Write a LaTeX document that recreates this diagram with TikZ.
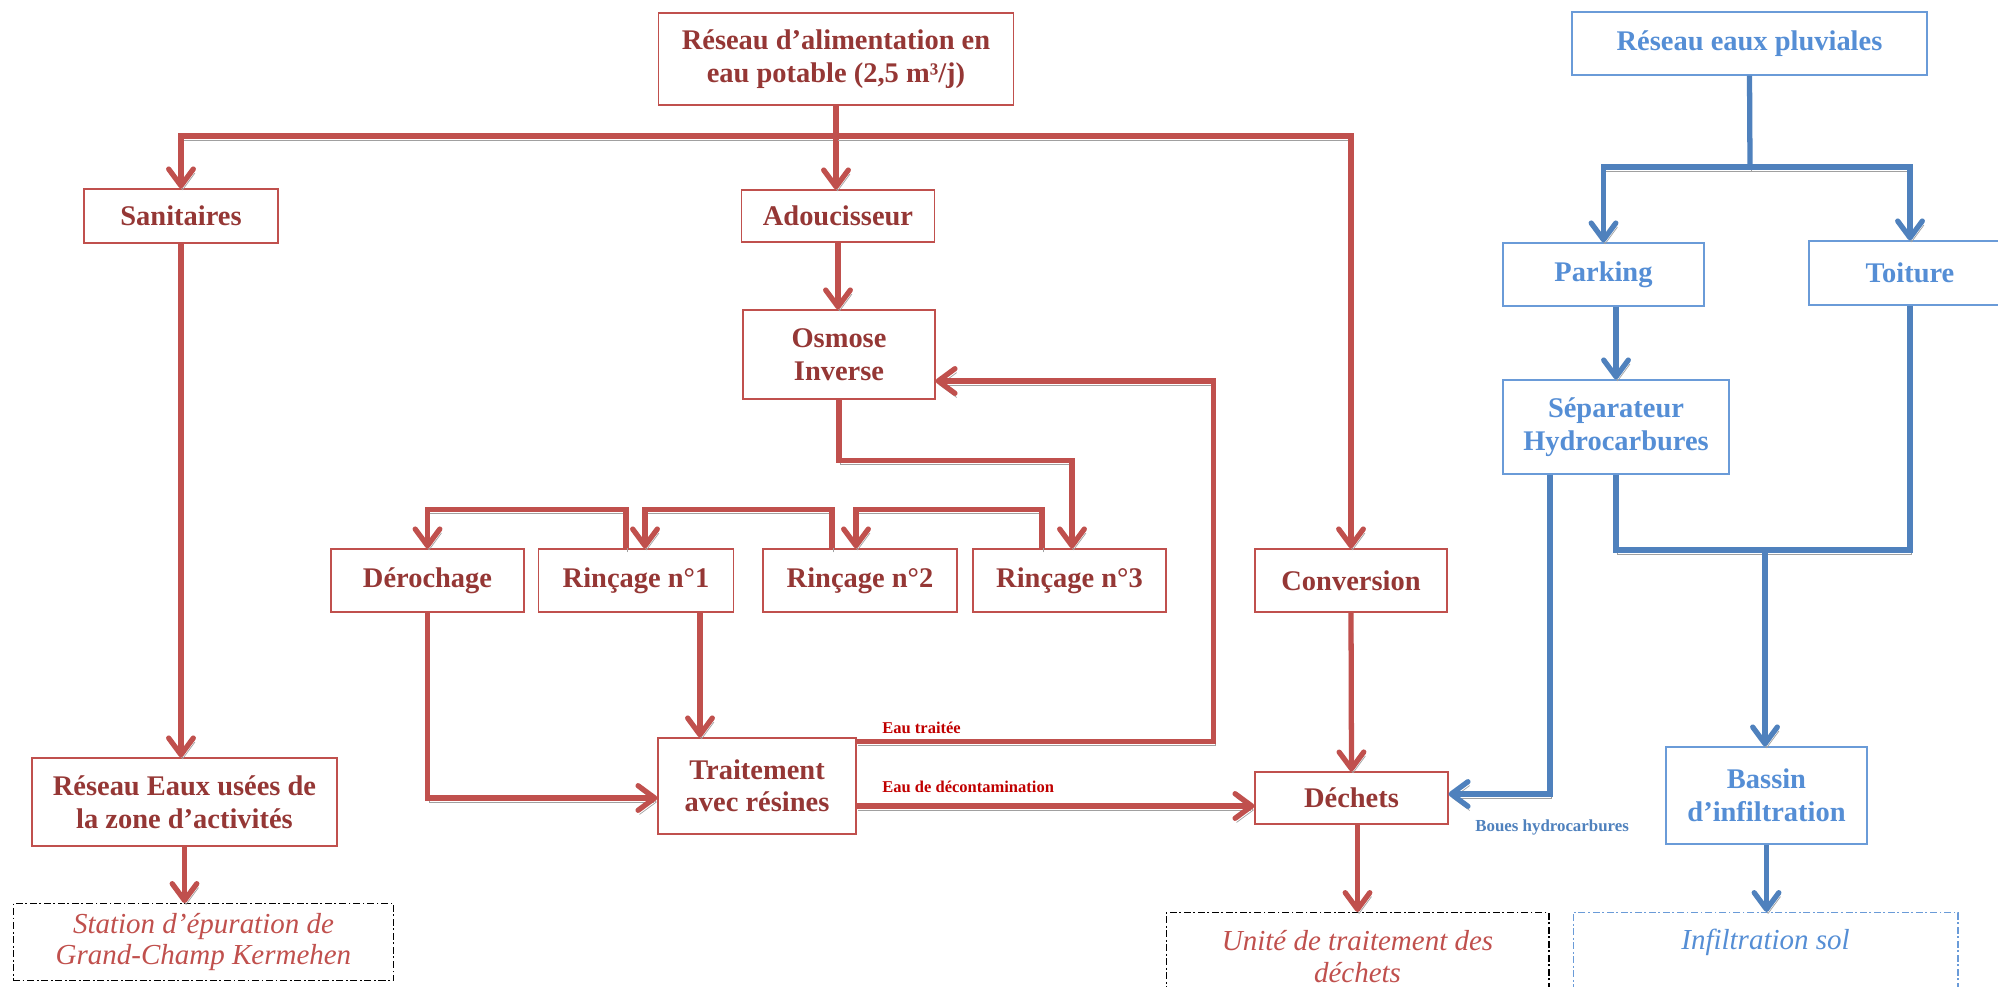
\documentclass[tikz,border=0pt]{standalone}
\usepackage{fontspec}
\setmainfont{Liberation Serif}
\usetikzlibrary{arrows.meta}

\tikzset{
	shadowed/.style={preaction={draw=shadowgray, transform canvas={shift={(0.9pt,-2.3pt)}}}},
	redflow/.style={draw=linered, line width=3pt, shadowed},
	blueflow/.style={draw=lineblue, line width=3pt, shadowed},
	arrowtip/.style={-{Straight Barb[length=9.5pt,width=14pt,round]}},
	redbox/.style={draw=linered, line width=0.7pt, text=txtred, align=center, inner sep=0pt,
		font=\bfseries\fontsize{16.2}{18.5}\selectfont},
	bluebox/.style={draw=boxblue, line width=0.7pt, text=txtblue, align=center, inner sep=0pt,
		font=\bfseries\fontsize{16.2}{18.5}\selectfont},
	endbox/.style={line width=0.6pt, dash pattern=on 4pt off 1.5pt on 1pt off 1.5pt, align=center,
		inner sep=0pt, anchor=north, font=\itshape\fontsize{16.5}{18}\selectfont},
	redlabel/.style={text=lblred, anchor=west, inner sep=0pt, font=\bfseries\fontsize{9.4}{10}\selectfont},
	bluelabel/.style={text=lineblue, anchor=west, inner sep=0pt, font=\bfseries\fontsize{9.6}{10}\selectfont}
}

\begin{document}
\begin{tikzpicture}[x=0.02cm, y=-0.02cm]
	\definecolor{linered}{RGB}{192, 80, 77}
	\definecolor{txtred}{RGB}{149, 55, 53}
	\definecolor{lblred}{RGB}{192, 0, 0}
	\definecolor{lineblue}{RGB}{79, 129, 189}
	\definecolor{boxblue}{RGB}{106, 155, 216}
	\definecolor{txtblue}{RGB}{85, 142, 213}
	\definecolor{shadowgray}{RGB}{160, 160, 160}

	\useasboundingbox (0,0) rectangle (1998,987);
	\clip (0,0) rectangle (1998,987);

	\node[redbox, minimum width=7.1cm, minimum height=1.84cm] (alim) at (836,59) {Réseau d’alimentation en\\eau potable (2,5 m³/j)};
	\node[redbox, minimum width=3.88cm, minimum height=1.08cm] (sanit) at (181,216) {Sanitaires};
	\node[redbox, minimum width=3.86cm, minimum height=1.04cm] (adouc) at (838,216) {Adoucisseur};
	\node[redbox, minimum width=3.84cm, minimum height=1.78cm] (osmose) at (839,354.5) {Osmose\\Inverse};
	\node[redbox, minimum width=3.86cm, minimum height=1.26cm] (deroch) at (427.5,580.5) {Dérochage};
	\node[redbox, minimum width=3.9cm, minimum height=1.26cm] (rinc1) at (636,580.5) {Rinçage n°1};
	\node[redbox, minimum width=3.88cm, minimum height=1.26cm] (rinc2) at (860,580.5) {Rinçage n°2};
	\node[redbox, minimum width=3.86cm, minimum height=1.26cm] (rinc3) at (1069.5,580.5) {Rinçage n°3};
	\node[redbox, minimum width=3.84cm, minimum height=1.26cm] (conv) at (1351,580.5) {Conversion};
	\node[redbox, minimum width=3.96cm, minimum height=1.92cm] (traite) at (757,786) {Traitement\\avec résines};
	\node[redbox, minimum width=3.86cm, minimum height=1.04cm] (dechets) at (1351.5,798) {Déchets};
	\node[redbox, minimum width=6.1cm, minimum height=1.76cm] (usees) at (184.5,802) {Réseau Eaux usées de\\la zone d’activités};
	\node[endbox, draw=black, text=linered, minimum width=7.62cm, minimum height=1.54cm] (station) at (203.5,903) {Station d’épuration de\\Grand-Champ Kermehen};
	\node[endbox, draw=black, text=linered, minimum width=7.66cm, minimum height=1.76cm] (unite) at (1357.5,912) {Unité de traitement des\\déchets};

	\node[bluebox, minimum width=7.1cm, minimum height=1.26cm] (pluv) at (1749.5,43.5) {Réseau eaux pluviales};
	\node[bluebox, minimum width=4.02cm, minimum height=1.26cm] (parking) at (1603.5,274.5) {Parking};
	\node[bluebox, minimum width=4.04cm, minimum height=1.28cm] (toiture) at (1910,273) {Toiture};
	\node[bluebox, minimum width=4.52cm, minimum height=1.88cm] (separ) at (1616,427) {Séparateur\\Hydrocarbures};
	\node[bluebox, minimum width=4.02cm, minimum height=1.94cm] (bassin) at (1766.5,795.5) {Bassin\\d’infiltration};
	\node[endbox, draw=boxblue, minimum width=7.7cm, minimum height=2cm] (infil) at (1765.5,912) {};
	\node[text=txtblue, inner sep=0pt, font=\itshape\fontsize{16.5}{18}\selectfont] (infiltxt) at (1765.5,942) {Infiltration sol};

	\node[redlabel] (traitee) at (882,728) {Eau traitée};
	\node[redlabel] (decont) at (882,787) {Eau de décontamination};
	\node[bluelabel] (boues) at (1475,827) {Boues hydrocarbures};

	\coordinate (split) at (836,136);
	\draw[redflow] (alim.south) -- (split);
	\draw[redflow, arrowtip] (split) -| (sanit.north);
	\draw[redflow, arrowtip] (split) -- (split |- adouc.north);
	\draw[redflow, arrowtip] (split) -| (conv.north);
	\draw[redflow, arrowtip] (adouc.south) -- (adouc.south |- osmose.north);
	\draw[redflow, arrowtip] (osmose.south) -- ++(0,61) -| ([xshift=0.05cm]rinc3.north);
	\draw[redflow, arrowtip] ([xshift=-0.55cm]rinc3.north) -- ++(0,-39) -| ([xshift=-0.08cm]rinc2.north);
	\draw[redflow, arrowtip] ([xshift=-0.56cm]rinc2.north) -- ++(0,-39) -| ([xshift=0.18cm]rinc1.north);
	\draw[redflow, arrowtip] ([xshift=-0.2cm]rinc1.north) -- ++(0,-39) -| (deroch.north);
	\draw[redflow, arrowtip] (deroch.south) |- ([yshift=-0.24cm]traite.west);
	\draw[redflow, arrowtip] ([xshift=1.28cm]rinc1.south) -- ([xshift=1.28cm]rinc1.south |- traite.north);
	\draw[redflow, arrowtip] ([yshift=-0.08cm]traite.north east) -- ++(357,0) |- ([yshift=-0.53cm]osmose.east);
	\draw[redflow, arrowtip] ([yshift=-0.4cm]traite.east) -- ([yshift=-0.4cm]traite.east -| dechets.west);
	\draw[redflow, arrowtip] (conv.south) -- (dechets.north);
	\draw[redflow, arrowtip] ([xshift=0.12cm]dechets.south) -- ([xshift=0.12cm]dechets.south |- unite.north);
	\draw[redflow, arrowtip] (sanit.south) -- (sanit.south |- usees.north);
	\draw[redflow, arrowtip] (usees.south) -- (usees.south |- station.north);

	\coordinate (fork) at (1750,167);
	\draw[blueflow] (pluv.south) -- (fork);
	\draw[blueflow, arrowtip] (fork) -| (parking.north);
	\draw[blueflow, arrowtip] (fork) -| (toiture.north);
	\draw[blueflow, arrowtip] (separ.north |- parking.south) -- (separ.north);
	\draw[blueflow, arrowtip] ([xshift=-1.32cm]separ.south) |- ([yshift=0.08cm]dechets.east);
	\coordinate (merge) at (1765,550);
	\draw[blueflow] (separ.south) |- (merge) -| (toiture.south);
	\draw[blueflow, arrowtip] (merge) -- (merge |- bassin.north);
	\draw[blueflow, arrowtip] (bassin.south) -- (bassin.south |- infil.north);

\end{tikzpicture}
\end{document}
